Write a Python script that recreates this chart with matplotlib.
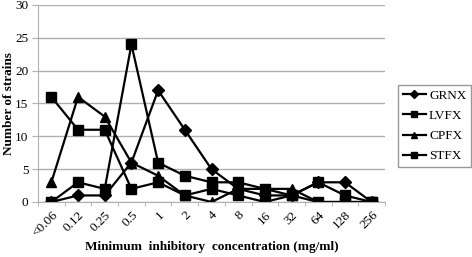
import numpy as np
import matplotlib.pyplot as plt

mic = ['<0.06', '0.12', '0.25', '0.5', '1', '2', '4', '8', '16', '32', '64', '128', '256']
grnx = [0, 1, 1, 6, 17, 11, 5, 2, 1, 1, 3, 3, 0]
lvfx = [0, 3, 2, 24, 6, 4, 3, 3, 2, 1, 3, 1, 0]
cpfx = [3, 16, 13, 6, 4, 1, 0, 2, 2, 2, 0, 0, 0]
stfx = [16, 11, 11, 2, 3, 1, 2, 1, 0, 1, 0, 0, 0]

plt.rcParams['font.family'] = ['Liberation Serif', 'DejaVu Serif']

fig = plt.figure(figsize=(4.72, 2.57), dpi=100)
ax = fig.add_axes([38 / 472, 55 / 257, 347 / 472, 197 / 257])

x = np.arange(len(mic))
style = dict(color='black', linewidth=1.6)
ax.plot(x, grnx, marker='D', markersize=6, label='GRNX', **style)
ax.plot(x, lvfx, marker='s', markersize=7, label='LVFX', **style)
ax.plot(x, cpfx, marker='^', markersize=7, label='CPFX', **style)
ax.plot(x, stfx, marker='s', markersize=7, label='STFX', **style)

ax.set_xlim(-0.5, len(mic) - 0.5)
ax.set_ylim(0, 30)
ax.set_yticks(range(0, 31, 5))
ax.set_xticks(x)
ax.set_xticklabels(mic, rotation=45, ha='right', rotation_mode='anchor', fontsize=9.5)
ax.set_xticks(np.arange(-0.5, len(mic), 1), minor=True)
ax.tick_params(axis='x', which='major', length=0, pad=5)
ax.tick_params(axis='x', which='minor', length=3, color='#aaaaaa')
ax.tick_params(axis='y', length=4, color='#b0b0b0', labelsize=9.5, pad=3)

ax.grid(True, axis='y', color='#b0b0b0', linewidth=1)
ax.set_axisbelow(True)
for side in ['top', 'right']:
    ax.spines[side].set_visible(False)
ax.spines['left'].set_color('#b0b0b0')
ax.spines['bottom'].set_color('#b0b0b0')

ax.set_ylabel('Number of strains', fontweight='bold', fontsize=9.5)
ax.yaxis.set_label_coords(-0.065, 0.5)
ax.set_xlabel('Minimum  inhibitory  concentration (mg/ml)', fontweight='bold', fontsize=9.5)
ax.xaxis.set_label_coords(0.5, -0.2)

leg = ax.legend(loc='center left', bbox_to_anchor=(398 / 472, 131 / 257), bbox_transform=fig.transFigure,
                frameon=True, fancybox=False, fontsize=9.5, handlelength=1.8, markerscale=0.7,
                borderpad=0.35, labelspacing=0.6, handletextpad=0.2, borderaxespad=0)
leg.get_frame().set_edgecolor('#808080')
leg.get_frame().set_linewidth(1)

fig.savefig('out.png', dpi=100)
